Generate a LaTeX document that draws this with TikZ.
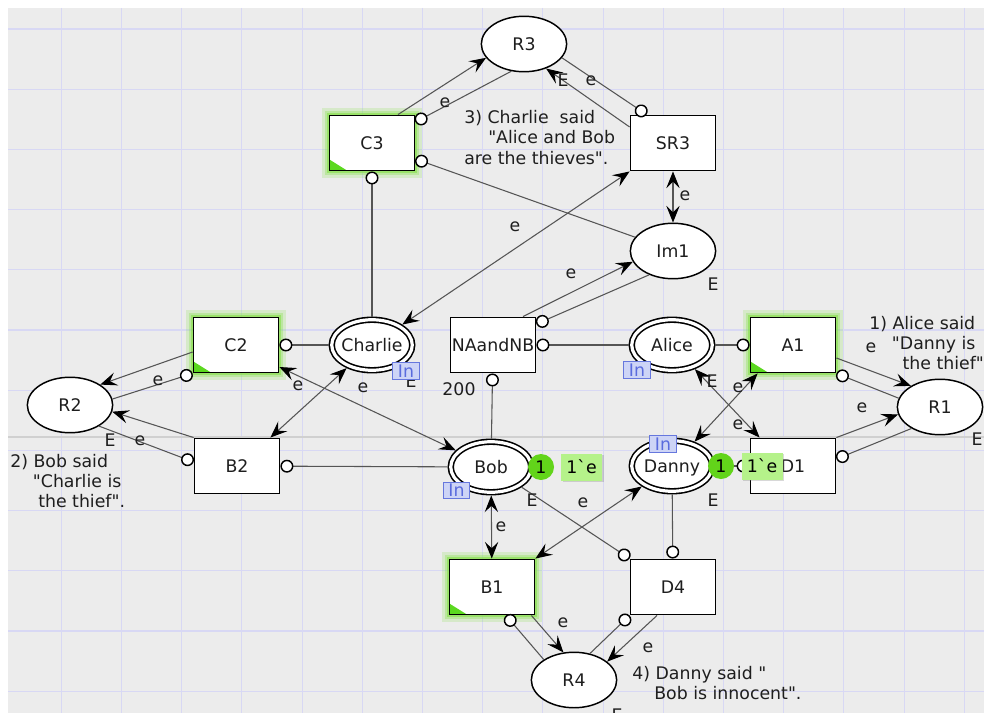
\documentclass[tikz,border=0pt]{standalone}
\usepackage{fontspec}
\newfontfamily\dv{DejaVu Sans}
\usetikzlibrary{arrows.meta,shapes.geometric,calc,shadows}
\definecolor{bgc}{HTML}{ECECEC}
\definecolor{gridc}{HTML}{D8D8F4}
\definecolor{pagec}{HTML}{D0D0D0}
\definecolor{arcc}{HTML}{555555}
\definecolor{txt}{HTML}{1E1E1E}
\definecolor{glow}{HTML}{7FE040}
\definecolor{tri}{HTML}{5BD81F}
\definecolor{tokg}{HTML}{62D41A}
\definecolor{tokl}{HTML}{B5F28A}
\definecolor{tagb}{HTML}{6677DD}
\definecolor{tagf}{HTML}{CDD4F6}
\definecolor{tagt}{HTML}{5A6BDD}
\newcommand\zb[1]{\makebox[0pt]{#1}}
\begin{document}
\begin{tikzpicture}[x=0.75pt,y=-0.75pt,
  every node/.style={font=\dv\fontsize{13}{15}\selectfont, text=txt},
  >={Stealth[length=12.5pt,width=10pt,inset=4.8pt,color=black]},
  ci/.tip={Circle[length=9.75pt,width=9.75pt,fill=white,color=black,line width=1.1pt]},
  arc/.style={draw=arcc, line width=0.8pt},
  place/.style={ellipse, draw=black, line width=1.1pt, fill=white, minimum width=64pt, minimum height=41.6pt, inner sep=0pt, text height=9.5pt, text depth=0pt},
  fusion/.style={ellipse, draw=black, line width=1.2pt, double=white, double distance=2.4pt, fill=white, minimum width=60.4pt, minimum height=37.9pt, inner sep=0pt, outer sep=2.4pt, text height=9.5pt, text depth=0pt},
  trans/.style={rectangle, draw=black, line width=1.1pt, fill=white, minimum width=64pt, minimum height=41.6pt, inner sep=0pt, text height=9.5pt, text depth=0pt},
  enab/.style={trans, preaction={draw=glow, line width=11pt, draw opacity=0.2}, preaction={draw=glow, line width=7pt, draw opacity=0.3}, preaction={draw=glow, line width=3.5pt, draw opacity=0.55}},
  lab/.style={inner sep=0pt},
  tag/.style={rectangle, draw=tagb, fill=tagf, text=tagt, line width=0.8pt, minimum width=20pt, minimum height=12.5pt, inner sep=0pt, text height=9.5pt, text depth=0pt},
  tokc/.style={circle, fill=tokg, minimum size=19.5pt, inner sep=0pt, text=black, text height=9.5pt, text depth=0pt},
  tokb/.style={rectangle, fill=tokl, minimum width=30.75pt, minimum height=20.25pt, inner sep=0pt, text=black, text height=9.5pt, text depth=0pt, drop shadow={shadow xshift=1.2pt, shadow yshift=-1.2pt, opacity=0.3}},
  cmt/.style={anchor=base west, inner sep=0pt}
]
\useasboundingbox (0,0) rectangle (984,713);
\clip (0,0) rectangle (984,713);
\fill[white] (0,0) rectangle (984,713);
\fill[bgc] (8,8) rectangle (984,713);
\foreach \i in {0,...,15} \draw[gridc, line width=0.8pt] ({61.3+60.2*\i},8) -- ({61.3+60.2*\i},713);
\foreach \j in {0,...,11} \draw[gridc, line width=0.8pt] (8,{29+60.2*\j}) -- (984,{29+60.2*\j});
\draw[pagec, line width=1pt] (8,437) -- (984,437);

% nodes
\node[place] (R3) at (524,44) {\zb{R3}};
\node[enab] (C3) at (372,143) {C3};
\node[trans] (SR3) at (673,143) {SR3};
\node[place] (Im1) at (673,251) {\zb{Im1}};
\node[enab] (C2) at (236,345) {C2};
\node[fusion] (Charlie) at (372,345) {\zb{Charlie}};
\node[trans] (NAandNB) at (493,345) {NAandNB};
\node[fusion] (Alice) at (672,345) {\zb{Alice}};
\node[enab] (A1) at (793,345) {A1};
\node[place] (R2) at (70,405) {\zb{R2}};
\node[place] (R1) at (940,407) {\zb{R1}};
\node[trans] (B2) at (237,466) {B2};
\node[fusion] (Bob) at (491,467) {\zb{Bob}};
\node[fusion] (Danny) at (672,466) {\zb{Danny}};
\node[trans] (D1) at (793,466) {D1};
\node[enab] (B1) at (492,587) {B1};
\node[trans] (D4) at (673,587) {D4};
\node[place] (R4) at (574,680) {\zb{R4}};

\foreach \n in {C3,C2,A1,B1}
  \fill[tri] ($(\n.south west)+(1.5,-1.5)$) -- ++(16,0) -- ++(-16,-10) -- cycle;

% arcs
\draw[arc,->] ($(C3.north)+(26,0)$) -- (R3.200);
\draw[arc,-{ci}] (R3.245) -- ($(C3.east)+(0,-21)$);
\draw[arc,->] ($(SR3.west)+(0,-16)$) -- (R3.312);
\draw[arc,-{ci}] (R3.340) -- ($(SR3.north west)+(17,0)$);
\draw[arc,-{ci}] (Im1.160) -- ($(C3.east)+(0,16)$);
\draw[arc,<->] (SR3.south west) -- (Charlie);
\draw[arc,<->] (SR3) -- (Im1);
\draw[arc,->] ($(NAandNB.north)+(30,0)$) -- (Im1.195);
\draw[arc,-{ci}] (Im1.225) -- ($(NAandNB.east)+(0,-21)$);
\draw[arc,-{ci}] (Charlie) -- (C3);
\draw[arc,-{ci}] (Charlie) -- (C2);
\draw[arc,-{ci}] (Alice) -- (NAandNB);
\draw[arc,-{ci}] (Alice) -- (A1);
\draw[arc,-{ci}] (Bob) -- (NAandNB);
\draw[arc,-{ci}] (Bob) -- (B2);
\draw[arc,-{ci}] (Danny) -- (D1);
\draw[arc,->] ($(C2.west)+(0,7)$) -- (R2.34);
\draw[arc,-{ci}] (R2.8) -- (C2.south west);
\draw[arc,->] (B2.north west) -- (R2.351);
\draw[arc,-{ci}] (R2.324) -- ($(B2.west)+(0,-4)$);
\draw[arc,<->] (Charlie) -- ($(B2.north east)+(-10,0)$);
\draw[arc,<->] ($(C2.east)+(0,22)$) -- (Bob);
\draw[arc,<->] (Bob) -- (B1);
\draw[arc,<->] (Danny) -- (B1.north east);
\draw[arc,-{ci}] (Bob) -- (D4.north west);
\draw[arc,-{ci}] (Danny) -- (D4);
\draw[arc,->] ($(B1.south east)+(-4,0)$) -- (R4.111);
\draw[arc,-{ci}] (R4.146) -- ($(B1.south)+(14,0)$);
\draw[arc,->] ($(D4.south)+(-16,0)$) -- (R4.29);
\draw[arc,-{ci}] (R4.59) -- (D4.south west);
\draw[arc,->] ($(A1.east)+(0,13)$) -- (R1.144);
\draw[arc,-{ci}] (R1.168) -- (A1.south east);
\draw[arc,->] (D1.north east) -- (R1.190);
\draw[arc,-{ci}] (R1.217) -- ($(D1.east)+(0,-7)$);
\draw[arc,<->] ($(A1.south west)+(8,0)$) -- (Danny);
\draw[arc,<->] (Alice) -- ($(D1.north west)+(10,0)$);

% arc inscriptions
\node[lab] (l1) at (445,103) {e};
\node[lab] (l2) at (591,81) {e};
\node[lab] (l3) at (515,227) {e};
\node[lab] (l4) at (685,196) {e};
\node[lab] (l5) at (571,274) {e};
\node[lab] (l6) at (459,389) {200};
\node[lab] (l7) at (158,381) {e};
\node[lab] (l8) at (140,441) {e};
\node[lab] (l9) at (298,386) {e};
\node[lab] (l10) at (363,388) {e};
\node[lab] (l11) at (871,348) {e};
\node[lab] (l12) at (738,388) {e};
\node[lab] (l13) at (738,425) {e};
\node[lab] (l14) at (862,408) {e};
\node[lab] (l15) at (583,503) {e};
\node[lab] (l16) at (501,527) {e};
\node[lab] (l17) at (563,623) {e};
\node[lab] (l18) at (648,648) {e};

% colour sets
\node[lab] (tR3) at (563,80) {E};
\node[lab] (tIm1) at (713,284) {E};
\node[lab] (tCh) at (411,381) {E};
\node[lab] (tAl) at (712,381) {E};
\node[lab] (tR2) at (110,440) {E};
\node[lab] (tR1) at (977,439) {E};
\node[lab] (tBob) at (532,500) {E};
\node[lab] (tDa) at (713,500) {E};
\node[lab] (tR4) at (617,715) {E};

% port tags
\node[tag] (pCh) at (406,371) {In};
\node[tag] (pAl) at (637,370) {In};
\node[tag] (pBob) at (456.5,490.5) {In};
\node[tag] (pDa) at (663,444) {In};

% tokens
\node[tokc] (kBob) at (541,467) {1};
\node[tokb] (mBob) at (581.5,467) {1`e};
\node[tokc] (kDa) at (721,466) {1};
\node[tokb] (mDa) at (762,466) {1`e};

% comments
\node[cmt] (c1) at (869,329) {\begin{tabular}[t]{@{}l@{}}1) Alice said\\\hspace*{17pt}"Danny is\\\hspace*{25pt}the thief"\end{tabular}};
\node[cmt] (c2) at (10,467) {\begin{tabular}[t]{@{}l@{}}2) Bob said\\\hspace*{17pt}"Charlie is\\\hspace*{21pt}the thief".\end{tabular}};
\node[cmt] (c3) at (464,124) {\begin{tabular}[t]{@{}l@{}}3) Charlie\ \ said\\\hspace*{18pt}"Alice and Bob\\are the thieves".\end{tabular}};
\node[cmt] (c4) at (632,679) {\begin{tabular}[t]{@{}l@{}}4) Danny said "\\\hspace*{16.5pt}Bob is innocent".\end{tabular}};
\end{tikzpicture}
\end{document}
